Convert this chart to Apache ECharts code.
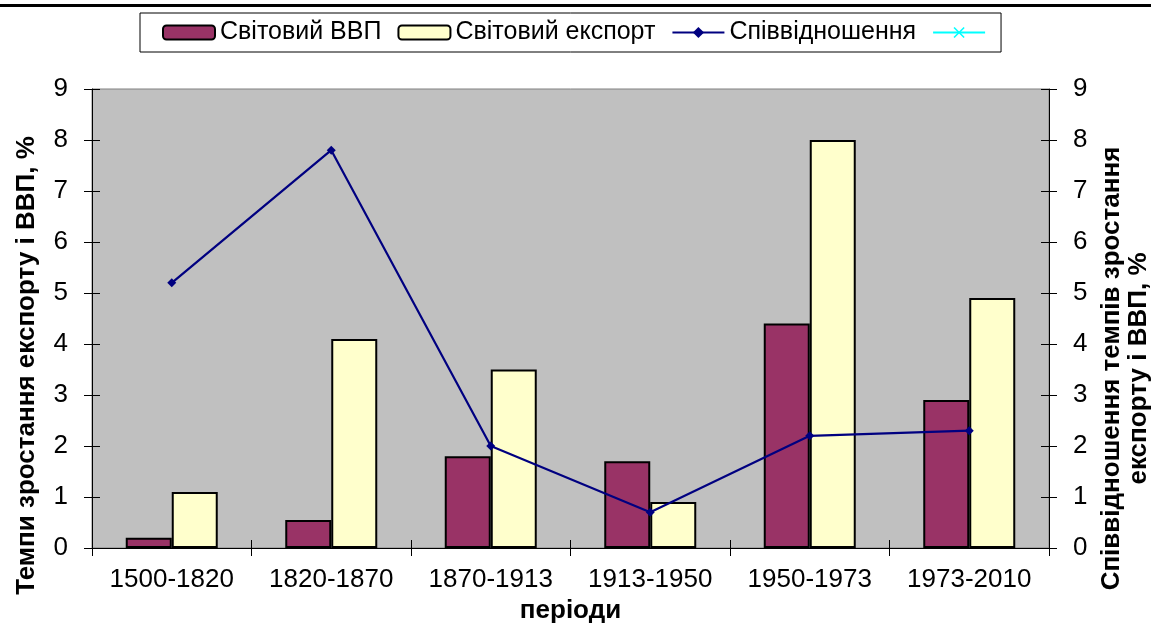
<!DOCTYPE html>
<html>
<head>
<meta charset="utf-8">
<title>Темпи зростання експорту і ВВП</title>
<script src="https://cdn.jsdelivr.net/npm/echarts@6/dist/echarts.min.js"></script>
<style>
  html, body { margin: 0; padding: 0; background: #fff; }
  #chart { width: 1151px; height: 628px; }
</style>
</head>
<body>
<div id="chart"></div>
<script>
// періоди
var periods = ['1500-1820', '1820-1870', '1870-1913', '1913-1950', '1950-1973', '1973-2010'];
// темпи зростання світового ВВП, %
var gdp = [0.2, 0.55, 1.8, 1.7, 4.4, 2.9];
// темпи зростання світового експорту, %
var exportGrowth = [1.1, 4.1, 3.5, 0.9, 8.0, 4.9];
// співвідношення темпів
var ratio = [5.2, 7.8, 2.0, 0.7, 2.2, 2.3];
// шкала осей
var axisMin = 0;
var axisMax = 9;
var axisStep = 1;

var font = 'Liberation Sans, Arial, sans-serif';
var labelSize = 26;

var chart = echarts.init(document.getElementById('chart'));

// допоміжна вісь тільки для внутрішніх рисок
function innerYAxis(pos) {
  return {
    type: 'value', position: pos, min: axisMin, max: axisMax, interval: axisStep,
    axisLine: { show: false },
    axisTick: { show: true, inside: true, length: 8, lineStyle: { color: '#000', width: 1 } },
    axisLabel: { show: false },
    splitLine: { show: false }
  };
}

var option = {
  backgroundColor: '#fff',
  animation: false,
  textStyle: { fontFamily: font },
  graphic: [
    { type: 'rect', shape: { x: 0, y: 4, width: 1151, height: 3 }, style: { fill: '#000' } }
  ],
  legend: {
    left: 140,
    top: 13,
    padding: [7, 4, 7, 22],
    itemGap: 16,
    itemWidth: 52,
    itemHeight: 14,
    borderColor: '#000',
    borderWidth: 1,
    backgroundColor: '#fff',
    textStyle: { fontSize: 25, color: '#000', fontFamily: font },
    data: ['Світовий ВВП', 'Світовий експорт', 'Співвідношення', ' ']
  },
  grid: {
    left: 92, right: 102, top: 89, bottom: 80,
    containLabel: false,
    outerBoundsMode: 'none',
    show: true,
    backgroundColor: '#c0c0c0',
    borderColor: '#808080',
    borderWidth: 1
  },
  xAxis: [
    {
      type: 'category',
      data: periods,
      position: 'bottom',
      axisLine: { onZero: false, lineStyle: { color: '#000', width: 1 } },
      axisTick: { show: true, length: 8, lineStyle: { color: '#000' } },
      axisLabel: { interval: 0, hideOverlap: false, margin: 19, fontSize: labelSize, color: '#000', fontFamily: font },
      name: 'періоди',
      nameLocation: 'middle',
      nameGap: 48,
      nameTextStyle: { fontSize: labelSize, fontWeight: 'bold', color: '#000', fontFamily: font }
    },
    {
      type: 'category',
      data: periods,
      position: 'bottom',
      axisLine: { show: false, onZero: false },
      axisTick: { show: true, inside: true, length: 8, lineStyle: { color: '#000' } },
      axisLabel: { show: false }
    }
  ],
  yAxis: [
    {
      type: 'value', position: 'left', min: axisMin, max: axisMax, interval: axisStep,
      axisLine: { show: true, lineStyle: { color: '#000', width: 1 } },
      axisTick: { show: true, length: 8, lineStyle: { color: '#000' } },
      axisLabel: { margin: 24, fontSize: labelSize, color: '#000', fontFamily: font },
      splitLine: { show: false },
      name: 'Темпи зростання експорту і ВВП, %',
      nameLocation: 'middle',
      nameRotate: 90,
      nameGap: 52,
      nameTextStyle: { fontSize: labelSize, fontWeight: 'bold', color: '#000', fontFamily: font, padding: [0, 94, 0, 0] }
    },
    {
      type: 'value', position: 'right', min: axisMin, max: axisMax, interval: axisStep,
      axisLine: { show: true, lineStyle: { color: '#000', width: 1 } },
      axisTick: { show: true, length: 8, lineStyle: { color: '#000' } },
      axisLabel: { margin: 24, fontSize: labelSize, color: '#000', fontFamily: font },
      splitLine: { show: false },
      name: 'Співвідношення темпів зростання\nекспорту і ВВП, %',
      nameLocation: 'middle',
      nameRotate: 90,
      nameGap: 46,
      nameTextStyle: { fontSize: labelSize, fontWeight: 'bold', color: '#000', fontFamily: font, lineHeight: 27, padding: [0, 100, 0, 0] }
    },
    innerYAxis('left'),
    innerYAxis('right')
  ],
  series: [
    {
      name: 'Світовий ВВП',
      type: 'bar',
      data: gdp,
      barWidth: 46,
      barGap: '0%',
      itemStyle: { color: '#993366', borderColor: '#000', borderWidth: 2 }
    },
    {
      name: 'Світовий експорт',
      type: 'bar',
      data: exportGrowth,
      barWidth: 46,
      barGap: '0%',
      itemStyle: { color: '#ffffcc', borderColor: '#000', borderWidth: 2 }
    },
    {
      name: 'Співвідношення',
      type: 'line',
      yAxisIndex: 1,
      data: ratio,
      symbol: 'diamond',
      symbolSize: 9,
      lineStyle: { color: '#000080', width: 2.2 },
      itemStyle: { color: '#000080' },
      z: 5
    },
    {
      // порожня серія, є тільки в легенді
      name: ' ',
      type: 'line',
      yAxisIndex: 1,
      data: [],
      symbol: 'path://M0,1L1,0L5,4L9,0L10,1L6,5L10,9L9,10L5,6L1,10L0,9L4,5Z',
      symbolSize: 9,
      lineStyle: { color: '#00ffff', width: 2 },
      itemStyle: { color: '#00ffff' }
    }
  ]
};

chart.setOption(option);
</script>
</body>
</html>
